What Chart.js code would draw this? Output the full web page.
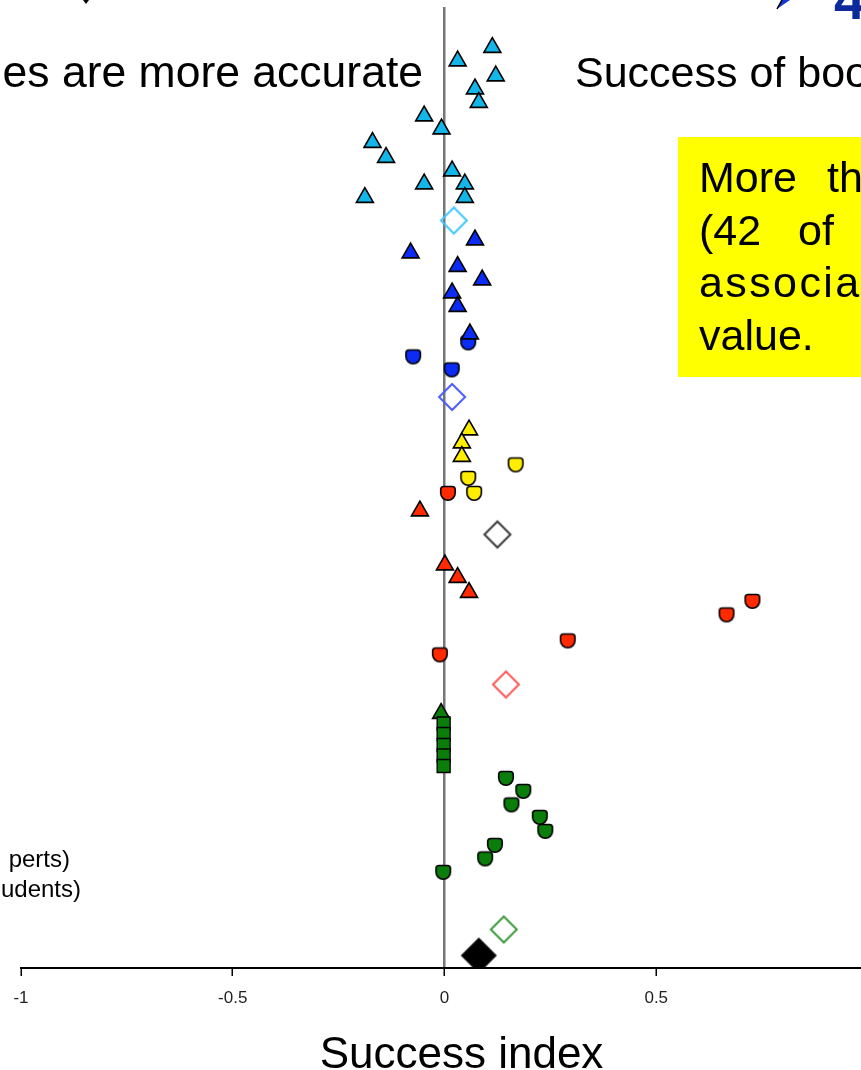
<!DOCTYPE html>
<html>
<head>
<meta charset="utf-8">
<script src="https://cdn.jsdelivr.net/npm/chart.js@4.4.0/dist/chart.umd.min.js"></script>
<style>
  html, body { margin: 0; padding: 0; background: #fff; overflow: hidden; width: 861px; height: 1070px; }
  canvas { display: block; }
</style>
</head>
<body>
<canvas id="chart" width="902" height="1070"></canvas>
<script>
// ---- data: success index (x) and row position (y, bottom = 0) ----
const xTickValues = [-1, -0.5, 0, 0.5, 1];

const cyanTriX = [0.113, 0.031, 0.121, 0.072, 0.081, -0.048, -0.007, -0.170, -0.138, 0.018, -0.048, 0.048, -0.188, 0.048];
const cyanTriY = [92.05, 90.7, 89.2, 87.9, 86.55, 85.2, 83.9, 82.55, 81.05, 79.7, 78.4, 78.4, 77.05, 77.05];

const blueTriX = [0.072, -0.080, 0.031, 0.089, 0.018, 0.031, 0.060];
const blueTriY = [72.8, 71.5, 70.15, 68.8, 67.5, 66.15, 63.4];
const blueDotX = [0.056, -0.074, 0.017];
const blueDotY = [62.5, 61.1, 59.8];

const yellowTriX = [0.058, 0.041, 0.041];
const yellowTriY = [53.8, 52.5, 51.15];
const yellowDotX = [0.168, 0.056, 0.070];
const yellowDotY = [50.3, 48.95, 47.45];

const redTriX = [-0.058, 0.001, 0.031, 0.058];
const redTriY = [45.7, 40.3, 39.05, 37.55];
const redDotX = [0.008, 0.727, 0.666, 0.291, -0.011];
const redDotY = [47.45, 36.65, 35.3, 32.7, 31.3];

const greenTriX = [-0.008];
const greenTriY = [25.45];
const greenSqX = [-0.002, -0.002, -0.002, -0.002, -0.002];
const greenSqY = [24.45, 23.4, 22.3, 21.25, 20.2];
const greenDotX = [0.145, 0.186, 0.158, 0.225, 0.238, 0.119, 0.096, -0.003];
const greenDotY = [18.95, 17.65, 16.3, 15.05, 13.65, 12.25, 10.9, 9.55];

// pooled estimates (open diamonds) and overall estimate (filled diamond)
const pooledX = [0.022, 0.018, 0.125, 0.145, 0.140];
const pooledY = [74.75, 57.1, 43.35, 28.35, 3.85];
const pooledColors = ['#3fc8ff', '#4a5cff', '#3a3a3a', '#ff5a5a', '#3d9a3d'];
const overallX = [0.081];
const overallY = [1.25];

// ---- marker factories ----
function shieldMarker(fill) {
  const c = document.createElement('canvas');
  c.width = 20; c.height = 19;
  const g = c.getContext('2d');
  const w = 14.5, r = w / 2, x0 = (20 - w) / 2, top = 2.5, mid = top + 6.5;
  g.beginPath();
  g.moveTo(x0, top + 3);
  g.quadraticCurveTo(x0, top, x0 + 3, top);
  g.lineTo(x0 + w - 3, top);
  g.quadraticCurveTo(x0 + w, top, x0 + w, top + 3);
  g.lineTo(x0 + w, mid);
  g.arc(x0 + r, mid, r, 0, Math.PI);
  g.closePath();
  g.fillStyle = fill; g.fill();
  g.lineWidth = 1.6; g.strokeStyle = '#000'; g.stroke();
  return c;
}

function diamondMarker(stroke, fill, d, lw) {
  const s = Math.ceil(d + lw + 4);
  const c = document.createElement('canvas');
  c.width = s; c.height = s;
  const g = c.getContext('2d');
  const m = s / 2, h = d / 2;
  g.beginPath();
  g.moveTo(m, m - h); g.lineTo(m + h, m); g.lineTo(m, m + h); g.lineTo(m - h, m);
  g.closePath();
  if (fill) { g.fillStyle = fill; g.fill(); }
  g.lineWidth = lw; g.strokeStyle = stroke; g.stroke();
  return c;
}

const pts = (xs, ys) => xs.map((x, i) => ({ x, y: ys[i] }));

function triSet(label, xs, ys, fill) {
  return { label, data: pts(xs, ys), pointStyle: 'triangle', pointRadius: 9.8,
    backgroundColor: fill, borderColor: '#000', borderWidth: 1.6, showLine: false };
}
function dotSet(label, xs, ys, fill) {
  return { label, data: pts(xs, ys), pointStyle: shieldMarker(fill), pointRadius: 9,
    backgroundColor: fill, borderColor: '#000', showLine: false };
}

const datasets = [
  triSet('Cyan studies', cyanTriX, cyanTriY, '#12b6e8'),
  triSet('Blue studies', blueTriX, blueTriY, '#0b2cf5'),
  dotSet('Blue studies (dots)', blueDotX, blueDotY, '#0b2cf5'),
  triSet('Yellow studies', yellowTriX, yellowTriY, '#ffee00'),
  dotSet('Yellow studies (dots)', yellowDotX, yellowDotY, '#ffee00'),
  triSet('Red studies', redTriX, redTriY, '#ff2a00'),
  dotSet('Red studies (dots)', redDotX, redDotY, '#ff2a00'),
  { label: 'Green studies (squares)', data: pts(greenSqX, greenSqY), pointStyle: 'rect', pointRadius: 9.2,
    backgroundColor: '#0a7d0a', borderColor: '#000', borderWidth: 1.3, showLine: false },
  triSet('Green studies', greenTriX, greenTriY, '#0a7d0a'),
  dotSet('Green studies (dots)', greenDotX, greenDotY, '#0a7d0a'),
  { label: 'Pooled', data: pts(pooledX, pooledY),
    pointStyle: pooledColors.map(c => diamondMarker(c, null, 26, 2)), pointRadius: 13, showLine: false },
  { label: 'Overall', data: pts(overallX, overallY),
    pointStyle: diamondMarker('#000', '#000', 35, 1), pointRadius: 18, showLine: false }
];

const SANS = "'Liberation Sans', Arial, Helvetica, sans-serif";

// slide annotations around the plot
const slideText = {
  id: 'slideText',
  afterDraw(chart) {
    const g = chart.ctx;
    g.save();
    // highlighted note box
    g.fillStyle = '#ffff00';
    g.fillRect(678, 137, 240, 240);
    g.fillStyle = '#000';
    g.font = '43px ' + SANS;
    g.textBaseline = 'alphabetic';
    g.textAlign = 'left';
    g.fillText('More', 699, 192);
    g.fillText('than', 827, 192);
    g.fillText('(42', 699, 245);
    g.fillText('of', 798, 245);
    g.letterSpacing = '2.4px';
    g.fillText('associated', 699, 297);
    g.letterSpacing = '0px';
    g.fillText('value.', 699, 350);

    // headings either side of the zero line
    g.font = '44.5px ' + SANS;
    g.textAlign = 'right';
    g.fillText('es are more accurate', 423, 87);
    g.font = '43px ' + SANS;
    g.textAlign = 'left';
    g.fillText('Success of boo', 575, 87);

    // legend fragments on the left
    g.font = '24px ' + SANS;
    g.textAlign = 'right';
    g.fillText('perts)', 70, 867);
    g.fillText('udents)', 81, 897);

    // heading number and arrow tips at the top
    g.textAlign = 'left';
    g.fillStyle = '#0d2a9c';
    g.font = 'bold 56px ' + SANS;
    g.fillText('4', 834, 19);
    g.beginPath();
    g.moveTo(777, 9); g.lineTo(782, 0); g.lineTo(790, 0); g.closePath();
    g.fillStyle = '#1437d6'; g.fill();
    g.beginPath(); g.moveTo(777, 9); g.lineTo(782, 0);
    g.lineWidth = 1.5; g.strokeStyle = '#000'; g.stroke();
    g.beginPath();
    g.moveTo(83, 0); g.lineTo(89, 0); g.lineTo(86, 4); g.closePath();
    g.fillStyle = '#000'; g.fill();
    g.restore();
  }
};

new Chart(document.getElementById('chart'), {
  type: 'scatter',
  data: { datasets },
  options: {
    responsive: false,
    animation: false,
    devicePixelRatio: 1,
    layout: { autoPadding: false, padding: { left: 21, right: 0, top: 7, bottom: 0 } },
    plugins: { legend: { display: false }, tooltip: { enabled: false } },
    scales: {
      x: {
        type: 'linear',
        min: -1,
        max: 1.0803,
        afterBuildTicks: s => { s.ticks = xTickValues.map(v => ({ value: v })); },
        afterFit: s => { s.height = 102; s.paddingLeft = 0; s.paddingRight = 0; },
        grid: {
          drawOnChartArea: true,
          color: c => (c.tick && c.tick.value === 0) ? '#767676' : 'rgba(0,0,0,0)',
          lineWidth: 2.5,
          drawTicks: true,
          tickLength: 8,
          tickColor: '#000',
          tickWidth: 1.5
        },
        border: { display: true, color: '#000', width: 2 },
        ticks: {
          color: '#222',
          padding: 12,
          maxRotation: 0,
          font: { family: SANS, size: 17 },
          callback: v => String(v)
        },
        title: {
          display: true,
          text: 'Success index',
          color: '#000',
          font: { family: SANS, size: 44, lineHeight: 1 },
          padding: { top: 26, bottom: -8 }
        }
      },
      y: { type: 'linear', display: false, min: 0, max: 96.1 }
    }
  },
  plugins: [slideText]
});
</script>
</body>
</html>
